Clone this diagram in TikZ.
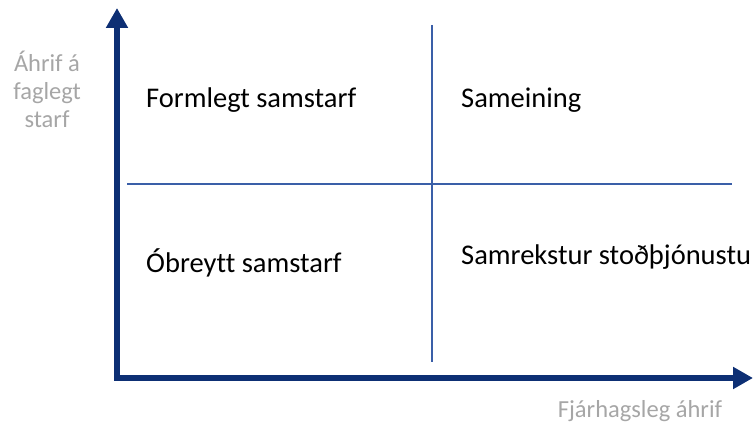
\documentclass[tikz,border=0pt]{standalone}
\usepackage{fontspec}
\setmainfont[Ligatures=NoCommon]{Carlito}
\usetikzlibrary{arrows.meta}
\definecolor{axisblue}{HTML}{0D2F74}
\definecolor{divblue}{HTML}{3A5FA8}
\definecolor{lblgray}{HTML}{A6A6A6}
\tikzset{
  axisline/.style={draw=axisblue, line width=5.5pt, -{Triangle[length=20pt,width=21pt]}},
  divider/.style={draw=divblue, line width=1.2pt},
  quad/.style={font=\fontsize{28.5}{34}\selectfont, text=black, anchor=west, inner sep=0pt},
  axlabel/.style={font=\fontsize{24.5}{28}\selectfont, text=lblgray, align=center, inner sep=0pt}
}
\begin{document}
\begin{tikzpicture}[x=1pt,y=-1pt]
\useasboundingbox (0,0) rectangle (753,427);
\clip (0,0) rectangle (753,427);
\coordinate (o) at (114,378);
\coordinate (ytip) at (117,8);
\coordinate (xtip) at (753,378);
\coordinate (vtop) at (432,25);
\coordinate (vbot) at (432,362);
\coordinate (hl) at (127,184);
\coordinate (hr) at (732,184);
\draw[divider] (vtop) -- (vbot);
\draw[divider] (hl) -- (hr);
\draw[axisline] (117,380.75) -- (ytip);
\draw[axisline] (o) -- (xtip);
\node[quad] (q1) at (146,100) {Formlegt samstarf};
\node[quad] (q2) at (461,100) {Sameining};
\node[quad] (q3) at (146,263) {Óbreytt samstarf};
\node[quad] (q4) at (461,257) {Samrekstur stoðþjónustu};
\node[axlabel] (ylab) at (47,89) {Áhrif á\\faglegt\\starf};
\node[axlabel] (xlab) at (640,411) {Fjárhagsleg áhrif};
\end{tikzpicture}
\end{document}
